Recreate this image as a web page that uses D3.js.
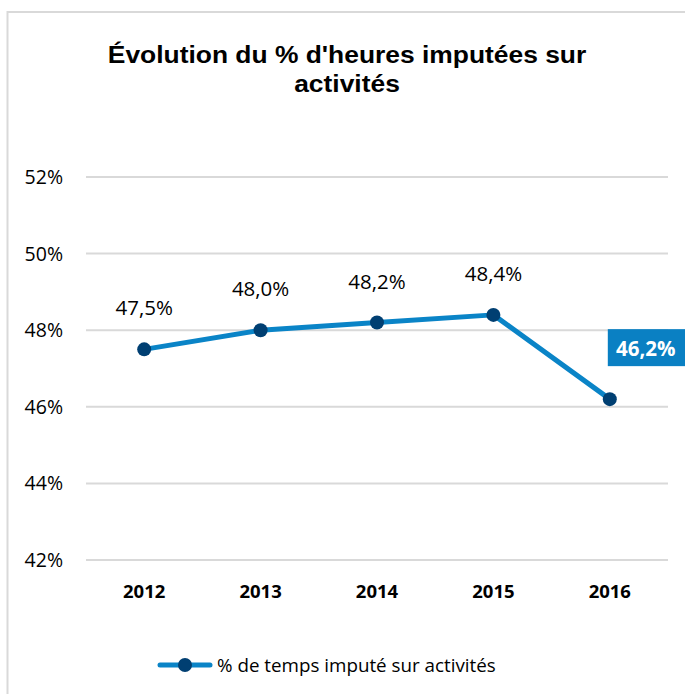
<!DOCTYPE html>
<html>
<head>
<meta charset="utf-8">
<script src="https://cdn.jsdelivr.net/npm/d3@7"></script>
<style>
  body { margin: 0; background: #fff; }
  svg { display: block; }
</style>
</head>
<body>
<svg id="chart"></svg>
<script>
// chart data
const years = ["2012", "2013", "2014", "2015", "2016"];
const values = [47.5, 48.0, 48.2, 48.4, 46.2];
const yTicks = [42, 44, 46, 48, 50, 52];
const titleLines = ["Évolution du % d'heures imputées sur", "activités"];
const seriesName = "% de temps imputé sur activités";

const width = 685, height = 694;
const plot = { left: 86, right: 668, top: 177, bottom: 560 };

const lineColor = "#0A84C7";
const markerColor = "#003F72";
const gridColor = "#D9D9D9";
const textFont = "'Open Sans', sans-serif";

const fmt = v => d3.format(".1f")(v).replace(".", ",") + "%";

const svg = d3.select("#chart")
    .attr("width", width)
    .attr("height", height);

// outer frame (runs off the right and bottom of the picture)
svg.append("rect")
    .attr("x", 7.5)
    .attr("y", 12)
    .attr("width", 720)
    .attr("height", 720)
    .attr("fill", "none")
    .attr("stroke", gridColor)
    .attr("stroke-width", 2);

// title
const title = svg.append("text")
    .attr("font-family", "'Liberation Sans', Arial, sans-serif")
    .attr("font-weight", "bold")
    .attr("font-size", 24)
    .attr("fill", "#000")
    .attr("text-anchor", "middle")
    .attr("transform", "translate(347,0) scale(1.1,1)");

title.selectAll("tspan")
    .data(titleLines)
    .join("tspan")
    .attr("x", 0)
    .attr("y", (d, i) => 63 + i * 29.5)
    .text(d => d);

const x = d3.scalePoint()
    .domain(years)
    .range([plot.left, plot.right])
    .padding(0.5);

const y = d3.scaleLinear()
    .domain([42, 52])
    .range([plot.bottom, plot.top]);

// gridlines
svg.append("g")
    .selectAll("line")
    .data(yTicks)
    .join("line")
    .attr("x1", plot.left)
    .attr("x2", plot.right)
    .attr("y1", d => y(d))
    .attr("y2", d => y(d))
    .attr("stroke", gridColor)
    .attr("stroke-width", 2);

// y axis labels
svg.append("g")
    .selectAll("text")
    .data(yTicks)
    .join("text")
    .attr("x", 63)
    .attr("y", d => y(d))
    .attr("dy", "0.36em")
    .attr("text-anchor", "end")
    .attr("font-family", textFont)
    .attr("font-size", 19.5)
    .attr("fill", "#000")
    .text(d => d + "%");

// x axis labels
svg.append("g")
    .selectAll("text")
    .data(years)
    .join("text")
    .attr("x", d => x(d))
    .attr("y", 598)
    .attr("text-anchor", "middle")
    .attr("font-family", textFont)
    .attr("font-weight", "bold")
    .attr("font-size", 18.5)
    .attr("fill", "#000")
    .text(d => d);

const points = years.map((yr, i) => ({ year: yr, value: values[i] }));

const line = d3.line()
    .x(d => x(d.year))
    .y(d => y(d.value));

svg.append("path")
    .datum(points)
    .attr("d", line)
    .attr("fill", "none")
    .attr("stroke", lineColor)
    .attr("stroke-width", 5)
    .attr("stroke-linejoin", "round");

svg.append("g")
    .selectAll("circle")
    .data(points)
    .join("circle")
    .attr("cx", d => x(d.year))
    .attr("cy", d => y(d.value))
    .attr("r", 7)
    .attr("fill", markerColor);

// data labels (last one highlighted in a box)
const last = points[points.length - 1];
const rest = points.slice(0, -1);

svg.append("g")
    .selectAll("text")
    .data(rest)
    .join("text")
    .attr("x", d => x(d.year))
    .attr("y", d => y(d.value) - 34)
    .attr("text-anchor", "middle")
    .attr("font-family", textFont)
    .attr("font-size", 20.5)
    .attr("fill", "#000")
    .text(d => fmt(d.value));

const box = svg.append("g")
    .attr("transform", `translate(${x(last.year)},${y(last.value)})`);

box.append("rect")
    .attr("x", -2)
    .attr("y", -70)
    .attr("width", 80)
    .attr("height", 37)
    .attr("fill", "#0A80C3");

box.append("text")
    .attr("x", 36)
    .attr("y", -43)
    .attr("text-anchor", "middle")
    .attr("font-family", textFont)
    .attr("font-weight", "bold")
    .attr("font-size", 20.5)
    .attr("fill", "#fff")
    .text(fmt(last.value));

// legend
const legend = svg.append("g")
    .attr("transform", "translate(160,665)");

legend.append("line")
    .attr("x1", 0)
    .attr("x2", 50)
    .attr("stroke", lineColor)
    .attr("stroke-width", 5)
    .attr("stroke-linecap", "round");

legend.append("circle")
    .attr("cx", 25)
    .attr("r", 7)
    .attr("fill", markerColor);

legend.append("text")
    .attr("x", 57)
    .attr("y", 0)
    .attr("dy", "0.36em")
    .attr("font-family", textFont)
    .attr("font-size", 18.8)
    .attr("fill", "#000")
    .text(seriesName);
</script>
</body>
</html>
